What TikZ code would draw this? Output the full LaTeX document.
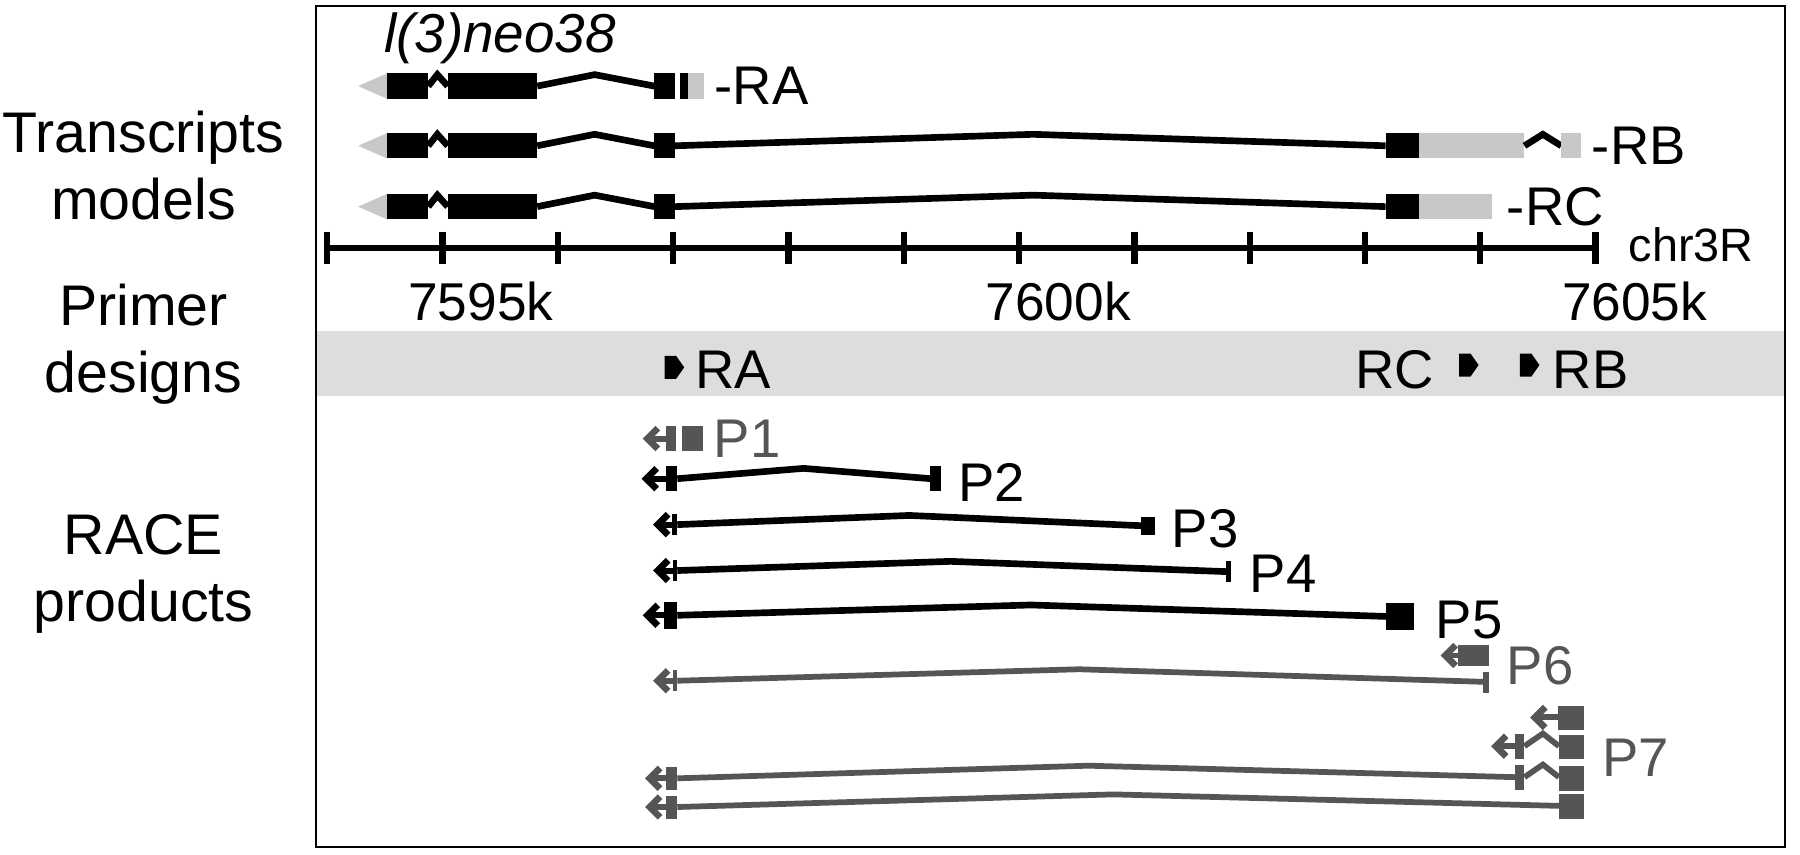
\documentclass[tikz,border=0pt]{standalone}
\usepackage{fontspec}
\setmainfont{Liberation Sans}
\definecolor{utr}{HTML}{C8C8C8}
\definecolor{bandgray}{HTML}{DDDDDD}
\definecolor{dg}{HTML}{555555}
% transcript common head: y
\newcommand\txhead[1]{%
  \fill[utr] (312,#1) -- (337,#1-11) -- (337,#1+11) -- cycle;
  \fill (337,#1-11) rectangle (373,#1+11);
  \draw[intron] (373,#1) -- (381,#1-10) -- (390,#1);
  \fill (390,#1-11) rectangle (468,#1+11);
  \draw[intron] (468,#1) -- (518,#1-10) -- (570,#1);
  \fill (570,#1-11) rectangle (588,#1+11);}
% chevron arrow: tip x, y, colour, end x of stub
\newcommand\chev[4]{%
  \draw[#3, line width=0.58mm, line join=miter] (#1+10,#2-9) -- (#1+1,#2) -- (#1+10,#2+9);
  \draw[#3, line width=0.52mm] (#1+2,#2) -- (#4,#2);}
% primer marker: x, y
\newcommand\primermark[2]{%
  \fill[black] (#1,#2-10) -- (#1+10,#2-10) -- (#1+17,#2) -- (#1+10,#2+10) -- (#1,#2+10) -- cycle;}
\begin{document}
\begin{tikzpicture}[x=0.1mm,y=-0.1mm,
  intron/.style={line width=0.58mm, line join=miter},
  thinline/.style={line width=0.5mm, line join=miter},
  lab/.style={inner sep=0, anchor=west, font=\fontsize{13.5}{16}\selectfont},
  tick/.style={inner sep=0, anchor=west, font=\fontsize{13.2}{15}\selectfont},
  side/.style={inner sep=0, align=center, font=\fontsize{14.2}{16.5}\selectfont}]
\useasboundingbox (0,0) rectangle (1568,744);
\fill[white] (0,0) rectangle (1568,744);
\draw[line width=0.15mm] (275,5) rectangle (1555,738);
% primer band
\fill[bandgray] (276,288) rectangle (1554,345);

% side labels
\node[side] (lt) at (125,144) {Transcripts\\models};
\node[side] (lp) at (125,300) {Primer\\designs};
\node[side] (lr) at (125,500) {RACE\\products};

% gene name
\node[inner sep=0, anchor=west, font=\itshape\fontsize{13.6}{16}\selectfont] (gene) at (334,33) {l(3)neo38};

% transcript RA
\txhead{75}
\fill (592,64) rectangle (599,86);
\fill[utr] (599,64) rectangle (613,86);
\node[lab] (tra) at (622,75) {-RA};
% transcript RB
\txhead{127}
\draw[intron] (588,127) -- (900,117) -- (1207,127);
\fill (1207,116) rectangle (1236,138);
\fill[utr] (1236,116) rectangle (1328,138);
\draw[intron] (1328,127) -- (1344,117) -- (1360,127);
\fill[utr] (1360,116) rectangle (1377,138);
\node[lab] (trb) at (1386,127) {-RB};
% transcript RC
\txhead{180}
\draw[intron] (588,180) -- (900,170) -- (1207,180);
\fill (1207,169) rectangle (1236,191);
\fill[utr] (1236,169) rectangle (1300,191);
\node[lab] (trc) at (1312,180) {-RC};

% axis
\draw[line width=0.5mm] (285,216) -- (1390,216);
\foreach \i in {0,...,11} \draw[line width=0.55mm] (285+\i*100.45,202) -- (285+\i*100.45,230);
\node[tick] (k95) at (355,263) {7595k};
\node[tick] (k00) at (858,263) {7600k};
\node[tick] (k05) at (1360,263) {7605k};
\node[inner sep=0, anchor=west, font=\fontsize{11.6}{14}\selectfont] (chr) at (1418,213) {chr3R};

% primers
\primermark{579}{320}
\node[lab] (pra) at (605,322) {RA};
\node[lab] (prc) at (1180,322) {RC};
\primermark{1271}{318}
\primermark{1324}{318}
\node[lab] (prb) at (1352,322) {RB};

% P1
\chev{563}{382}{dg}{581}
\fill[dg] (580,371) rectangle (589,393);
\fill[dg] (594,371) rectangle (612,393);
\node[lab, text=dg] (p1) at (621,382) {P1};
% P2
\chev{562}{417}{black}{581}
\fill (580,406) rectangle (590,428);
\draw[intron] (590,417) -- (700,408) -- (811,417);
\fill (810,406) rectangle (820,428);
\node[lab] (p2) at (834,420) {P2};
% P3
\chev{572}{457}{black}{586}
\fill (585,448) rectangle (590,466);
\draw[intron] (590,457) -- (792,449) -- (995,458);
\fill (994,450) rectangle (1006,466);
\node[lab] (p3) at (1020,461) {P3};
% P4
\chev{572}{497}{black}{587}
\fill (586,488) rectangle (590,506);
\draw[intron] (590,497) -- (828,489) -- (1070,498);
\fill (1068,489) rectangle (1072,507);
\node[lab] (p4) at (1088,500) {P4};
% P5
\chev{563}{536}{black}{579}
\fill (578,524) rectangle (590,548);
\draw[intron] (590,536) -- (898,527) -- (1208,537);
\fill (1207,525) rectangle (1232,549);
\node[lab] (p5) at (1250,540) {P5};
% P6
\chev{1258}{571}{dg}{1271}
\fill[dg] (1270,562) rectangle (1297,580);
\chev{572}{593}{dg}{587}
\fill[dg] (586,584) rectangle (590,602);
\draw[thinline, dg] (590,593) -- (940,583) -- (1294,594);
\fill[dg] (1292,585) rectangle (1297,604);
\node[lab, text=dg] (p6) at (1312,580) {P6};
% P7
\chev{1336}{625}{dg}{1358}
\fill[dg] (1357,615) rectangle (1380,636);
\chev{1302}{650}{dg}{1321}
\fill[dg] (1320,639) rectangle (1328,661);
\draw[thinline, dg] (1328,650) -- (1344,639) -- (1358,650);
\fill[dg] (1358,640) rectangle (1380,661);
\chev{565}{678}{dg}{581}
\fill[dg] (580,668) rectangle (590,688);
\draw[thinline, dg] (590,678) -- (948,667) -- (1320,677);
\fill[dg] (1320,666) rectangle (1328,688);
\draw[thinline, dg] (1328,677) -- (1344,666) -- (1358,677);
\fill[dg] (1358,667) rectangle (1380,689);
\chev{565}{703}{dg}{581}
\fill[dg] (580,693) rectangle (590,713);
\draw[thinline, dg] (590,703) -- (970,692) -- (1358,702);
\fill[dg] (1358,692) rectangle (1380,713);
\node[lab, text=dg] (p7) at (1395,660) {P7};
\end{tikzpicture}
\end{document}
